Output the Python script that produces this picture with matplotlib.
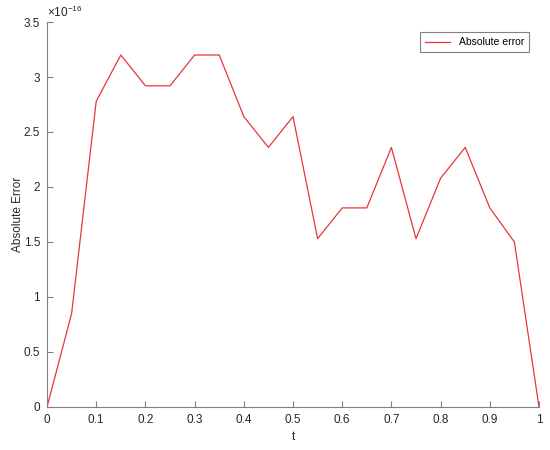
import numpy as np
import matplotlib
matplotlib.use("Agg")
import matplotlib.pyplot as plt
from matplotlib.ticker import FuncFormatter

# sampled times and absolute error values (units of 1e-16)
t = [0, 0.05, 0.1, 0.15, 0.2, 0.25, 0.3, 0.35, 0.4, 0.45, 0.5,
     0.55, 0.6, 0.65, 0.7, 0.75, 0.8, 0.85, 0.9, 0.95, 1.0]
err_scaled = [0, 0.85, 2.78, 3.2, 2.92, 2.92, 3.2, 3.2, 2.64, 2.36, 2.64,
              1.53, 1.81, 1.81, 2.36, 1.53, 2.08, 2.36, 1.81, 1.5, 0]
abs_err = [v * 1e-16 for v in err_scaled]

plt.rcParams['font.family'] = ['Liberation Sans', 'DejaVu Sans']
plt.rcParams['mathtext.fontset'] = 'custom'
plt.rcParams['mathtext.rm'] = 'Liberation Sans'

fig = plt.figure(figsize=(5.5, 4.5), dpi=100)
ax = fig.add_axes([0.0855, 0.0956, 0.8945, 0.8555])

ax.plot(t, abs_err, color='#e8353a', linewidth=0.9, label='Absolute error')

ax.set_xlim(0, 1)
ax.set_ylim(0, 3.5e-16)
ax.set_xticks(np.arange(0, 1.01, 0.1))
ax.xaxis.set_major_formatter(FuncFormatter(lambda v, p: f'{v:g}'))
ax.set_yticks(np.arange(0, 3.51e-16, 0.5e-16))
ax.yaxis.set_major_formatter(FuncFormatter(lambda v, p: f'{round(v * 1e16, 2):g}'))
ax.text(0, 1.006, r'$\times 10^{-16}$', transform=ax.transAxes, ha='left', va='bottom',
        fontsize=8.5, color='#262626')

ax.set_xlabel('t', fontsize=8.5, color='#262626')
ax.set_ylabel('Absolute Error', fontsize=8.5, color='#262626')
ax.yaxis.set_label_coords(-0.047, 0.5)

for side in ['top', 'right']:
    ax.spines[side].set_visible(False)
for side in ['left', 'bottom']:
    ax.spines[side].set_color('#808080')
    ax.spines[side].set_linewidth(0.8)
ax.tick_params(direction='in', length=4, width=0.8, color='#808080',
               labelsize=8.5, labelcolor='#262626', pad=5)

leg = ax.legend(loc='upper right', bbox_to_anchor=(0.98, 0.974), borderaxespad=0,
                fontsize=7.5, fancybox=False, framealpha=1, handlelength=2.4,
                borderpad=0.5)
leg.get_frame().set_edgecolor('#808080')
leg.get_frame().set_linewidth(0.8)

fig.savefig('out.png', dpi=100)
